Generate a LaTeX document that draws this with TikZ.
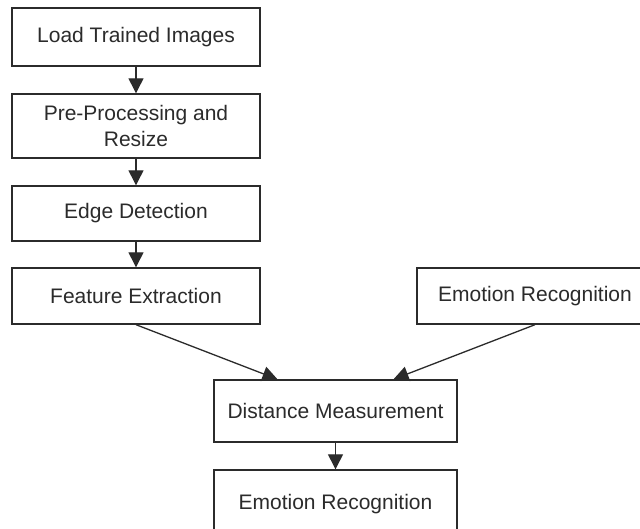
\documentclass[tikz,border=0pt]{standalone}
\usepackage{fontspec}
\setmainfont{Liberation Sans}
\usetikzlibrary{arrows.meta,calc}
\definecolor{ink}{HTML}{2B2B2B}
\begin{document}
\begin{tikzpicture}[x=1pt,y=-1pt,
  stage/.style={draw=ink,line width=1.4pt,rectangle,align=center,
    text=ink,font=\fontsize{21}{25.5}\selectfont,inner sep=0pt},
  flow/.style={draw=ink,line width=1.3pt,
    -{Triangle[length=15pt,width=15pt]}}]
\clip (0,0) rectangle (640,529);
\fill[white] (0,0) rectangle (640,529);
\node[stage,minimum width=248,minimum height=58] (load) at (136,37) {Load Trained Images};
\node[stage,minimum width=248,minimum height=64] (pre) at (136,126) {Pre-Processing and\\Resize};
\node[stage,minimum width=248,minimum height=55] (edge) at (136,213.5) {Edge Detection};
\node[stage,minimum width=248,minimum height=56] (feat) at (136,296) {Feature Extraction};
\node[stage,minimum width=236,minimum height=56] (emo1) at (535,296) {Emotion Recognition};
\node[stage,minimum width=243,minimum height=62] (dist) at (335.5,411) {Distance Measurement};
\node[stage,minimum width=243,minimum height=68] (emo2) at (335.5,504) {Emotion Recognition};
\draw[flow] (load) -- (pre);
\draw[flow] (pre) -- (edge);
\draw[flow] (edge) -- (feat);
\draw[flow] (feat.south) -- ($(dist.north)+(-58,0)$);
\draw[flow] (emo1.south) -- ($(dist.north)+(58,0)$);
\draw[flow] (dist) -- (emo2);
\end{tikzpicture}
\end{document}
